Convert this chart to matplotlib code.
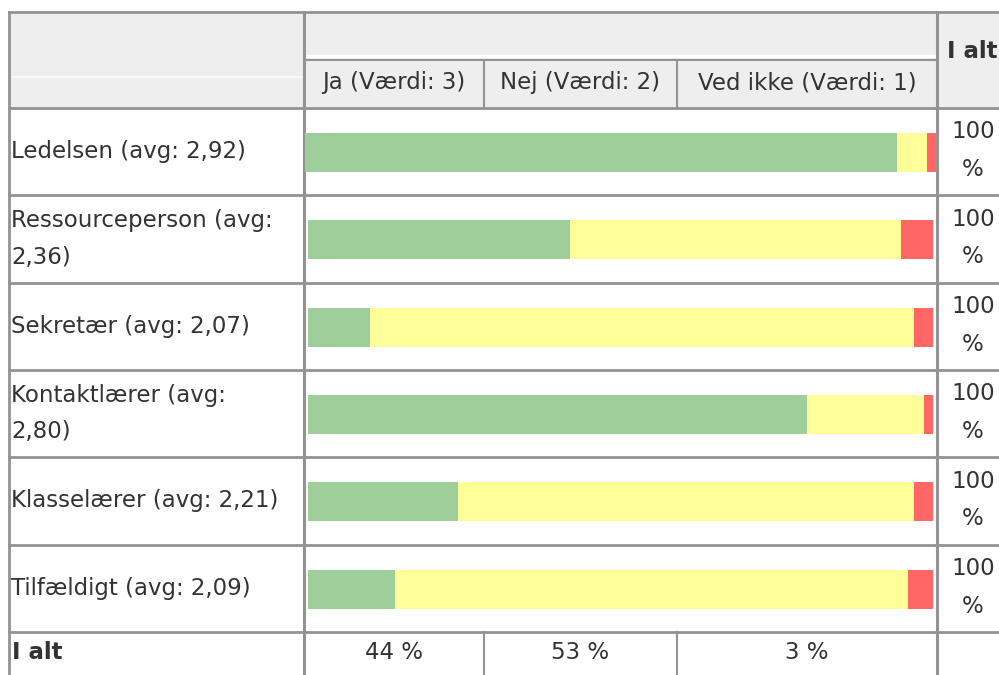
import numpy as np
from matplotlib import pyplot as plt

# survey rows, shares in percent (Ja / Nej / Ved ikke)
labels = [
    "Ledelsen (avg: 2,92)",
    "Ressourceperson (avg:\n2,36)",
    "Sekretær (avg: 2,07)",
    "Kontaktlærer (avg:\n2,80)",
    "Klasselærer (avg: 2,21)",
    "Tilfældigt (avg: 2,09)",
]
ja = [93.8, 41.9, 9.9, 79.8, 24.0, 13.9]
nej = [4.8, 53.0, 87.1, 18.8, 73.0, 82.1]
ved_ikke = [1.4, 5.1, 3.0, 1.4, 3.0, 4.0]
row_totals = ["100\n%"] * 6

answers = ["Ja (Værdi: 3)", "Nej (Værdi: 2)", "Ved ikke (Værdi: 1)"]
answer_totals = ["44 %", "53 %", "3 %"]
colors = ["#9ecf9b", "#ffff99", "#ff6666"]

W, H = 999, 675
fig = plt.figure(figsize=(W / 100, H / 100), dpi=100)

# background axes in pixel coordinates for the table frame and text
bg = fig.add_axes([0, 0, 1, 1])
bg.set_xlim(0, W)
bg.set_ylim(H, 0)
bg.axis("off")

x_left, x_lab, x_tot, x_right = 9, 304, 937, W
sub_x = [304, 484, 677, 937]
y_top, y_sub, y_head = 12, 60, 108
y_rows = np.linspace(108, 632, len(labels) + 1)
y_bot = H

line_c = "#939393"
txt_c = "#333333"
fs = 16.5

# header band
bg.fill_between([x_left, x_right], y_top, y_head, color="#eeeeee", lw=0)
bg.plot([x_lab, x_tot], [56, 56], color="white", lw=2.5)
bg.plot([x_left, x_lab], [77, 77], color="#f8f8f8", lw=1.5)

# frame lines
bg.plot([x_left, x_right], [y_top, y_top], color=line_c, lw=2)
bg.plot([x_lab, x_tot], [y_sub, y_sub], color=line_c, lw=1.5)
for y in y_rows:
    bg.plot([x_left, x_right], [y, y], color=line_c, lw=2)
bg.plot([x_left, x_left], [y_top, y_bot], color=line_c, lw=2)
bg.plot([x_lab, x_lab], [y_top, y_bot], color=line_c, lw=2.2)
bg.plot([x_tot, x_tot], [y_top, y_bot], color=line_c, lw=2.2)
for x in sub_x[1:3]:
    bg.plot([x, x], [y_sub, y_head], color=line_c, lw=1.5)
    bg.plot([x, x], [y_rows[-1], y_bot], color=line_c, lw=1.5)

# header texts
for i, a in enumerate(answers):
    cx = (sub_x[i] + sub_x[i + 1]) / 2
    bg.text(cx, 83, a, ha="center", va="center", fontsize=fs, color=txt_c)
bg.text(947, 52, "I alt", ha="left", va="center", fontsize=fs,
        fontweight="bold", color=txt_c)

# row labels and totals
for i, lab in enumerate(labels):
    cy = (y_rows[i] + y_rows[i + 1]) / 2
    bg.text(11, cy, lab, ha="left", va="center", fontsize=fs, color=txt_c,
            linespacing=1.75)
    bg.text(973, cy - 1, row_totals[i], ha="center", va="center", fontsize=fs,
            color=txt_c, linespacing=1.8)

# bottom totals row
cy = (y_rows[-1] + y_bot) / 2 - 1
bg.text(12, cy, "I alt", ha="left", va="center", fontsize=fs,
        fontweight="bold", color=txt_c)
for i, t in enumerate(answer_totals):
    cx = (sub_x[i] + sub_x[i + 1]) / 2
    bg.text(cx, cy, t, ha="center", va="center", fontsize=fs, color=txt_c)

# stacked bars; the first row's bar fills its cell a bit wider
insets = [1, 4, 4, 4, 4, 4]
ax = fig.add_axes([x_lab / W, 1 - y_rows[-1] / H, (x_tot - x_lab) / W,
                   (y_rows[-1] - y_rows[0]) / H])
ax.patch.set_alpha(0)
ax.axis("off")
for i in range(len(labels)):
    s0 = x_lab + insets[i]
    span = (x_tot - insets[i]) - s0
    left = s0
    for vals, c in zip([ja, nej, ved_ikke], colors):
        w = vals[i] / 100 * span
        ax.barh(i + 0.01, w, left=left, height=0.445, color=c, lw=0)
        left += w
ax.set_xlim(x_lab, x_tot)
ax.set_ylim(len(labels) - 0.5, -0.5)

fig.savefig("out.png", dpi=100)
